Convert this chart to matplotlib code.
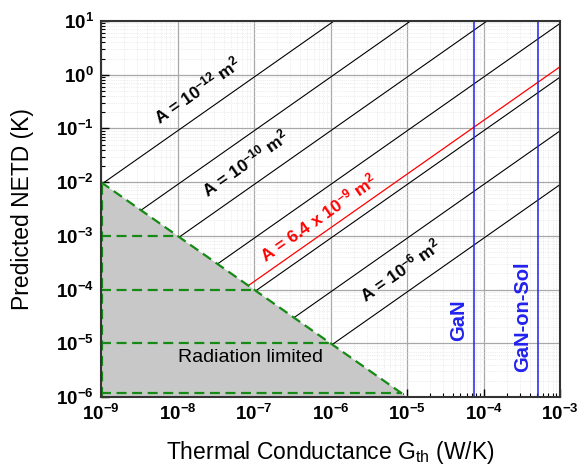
import numpy as np
import matplotlib
matplotlib.use("Agg")
import matplotlib.pyplot as plt
from matplotlib.ticker import LogLocator, FuncFormatter, NullFormatter

plt.rcParams['font.family'] = 'Liberation Sans'
plt.rcParams['mathtext.fontset'] = 'custom'
plt.rcParams['mathtext.rm'] = 'Liberation Sans'
plt.rcParams['mathtext.bf'] = 'Liberation Sans:bold'
plt.rcParams['mathtext.it'] = 'Liberation Sans:italic'

# pixel areas (m^2) of the constant-area lines
areas = [1e-12, 1e-11, 1e-10, 1e-9, 1e-8, 1e-7, 1e-6]
area_red = 6.4e-9
netd_coef = 0.9e-5          # NETD = netd_coef * G / A
g_max = 1e-3

# radiation limit: NETD = rad_coef / G
rad_coef = 1e-11
rad_g = [1e-9, 1e-5]
rad_netd = [1e-2, 1e-6]
dash_levels = [1e-3, 1e-4, 1e-5, 1.17e-6]

# material conductances
g_gan = 7.5e-5
g_gan_sol = 5.1e-4

fig = plt.figure(figsize=(5.78, 4.74), dpi=100)
ax = fig.add_axes([101/578, 1-397/474, 459/578, 376/474])
ax.set_xscale('log')
ax.set_yscale('log')
ax.set_xlim(1e-9, 1e-3)
ax.set_ylim(1e-6, 1e1)

# grey region
ax.fill([rad_g[0], rad_g[0], rad_g[1]], [rad_netd[1], rad_netd[0], rad_netd[1]],
        color='#c8c8c8', zorder=2, lw=0)

green = '#158a15'
ds = (0, (4.5, 2.5))
ax.plot(rad_g, rad_netd, color=green, lw=1.6, ls=ds, zorder=4)
ax.plot([1.04e-9, 1.04e-9], [1e-6, rad_netd[0]], color=green, lw=1.6, ls=ds, zorder=4)
for lv in dash_levels:
    ax.plot([1e-9, rad_coef/lv], [lv, lv], color=green, lw=1.6, ls=ds, zorder=4)

# constant-area lines
for a in areas:
    c = netd_coef / a
    g0 = np.sqrt(rad_coef / c)
    g = np.array([g0, g_max])
    ax.plot(g, c*g, color='black', lw=0.8, zorder=3)
c = netd_coef / area_red
g0 = np.sqrt(rad_coef / c)
g = np.array([g0, g_max])
ax.plot(g, c*g, color='red', lw=0.9, zorder=3)

ax.axvline(g_gan, color='#2222ee', lw=1.1, zorder=3)
ax.axvline(g_gan_sol, color='#2222ee', lw=1.1, zorder=3)

# labels
ax.text(1.8e-8, 0.52, r'A = 10$^{\mathbf{-12}}$ m$^{\mathbf{2}}$', rotation=35,
        ha='center', va='center', fontsize=12.5, fontweight='bold', zorder=5)
ax.text(7.7e-8, 2.3e-2, r'A = 10$^{\mathbf{-10}}$ m$^{\mathbf{2}}$', rotation=35,
        ha='center', va='center', fontsize=12.5, fontweight='bold', zorder=5)
ax.text(7e-7, 2.2e-3, r'A = 6.4 x 10$^{\mathbf{-9}}$ m$^{\mathbf{2}}$', rotation=35,
        ha='center', va='center', fontsize=12.5, fontweight='bold', color='red', zorder=5)
ax.text(8.3e-6, 2.3e-4, r'A = 10$^{\mathbf{-6}}$ m$^{\mathbf{2}}$', rotation=35,
        ha='center', va='center', fontsize=12.5, fontweight='bold', zorder=5)
ax.text(4.8e-5, 2.7e-5, 'GaN', rotation=90, ha='center', va='center',
        fontsize=14.5, fontweight='bold', color='#2222ee', zorder=5)
ax.text(3.2e-4, 3.1e-5, 'GaN-on-Sol', rotation=90, ha='center', va='center',
        fontsize=14.5, fontweight='bold', color='#2222ee', zorder=5)
ax.text(9e-8, 5.5e-6, 'Radiation limited', ha='center', va='center',
        fontsize=14, zorder=5)

# ticks and grid
fmt = FuncFormatter(lambda v, p: r'$\mathbf{10^{%d}}$' % int(round(np.log10(v))))
for axis in (ax.xaxis, ax.yaxis):
    axis.set_major_locator(LogLocator(base=10, numticks=20))
    axis.set_minor_locator(LogLocator(base=10, subs=np.arange(2, 10), numticks=20))
    axis.set_major_formatter(fmt)
    axis.set_minor_formatter(NullFormatter())
ax.tick_params(which='major', direction='in', length=6, width=1, labelsize=13.5, pad=5)
ax.tick_params(which='minor', direction='in', length=3, width=0.8)
ax.grid(which='major', color='#a8a8a8', lw=0.9, zorder=1)
ax.grid(which='minor', color='#dcdcdc', lw=0.5, ls=':', zorder=1)
ax.set_axisbelow(True)
for sp in ax.spines.values():
    sp.set_linewidth(1.5)
    sp.set_color('#333333')
    sp.set_zorder(6)

ax.set_xlabel(r'Thermal Conductance G$_{\mathrm{th}}$ (W/K)', fontsize=16.5, labelpad=11)
ax.set_ylabel('Predicted NETD (K)', fontsize=16.5, labelpad=16)

fig.savefig('out.png', dpi=100)
